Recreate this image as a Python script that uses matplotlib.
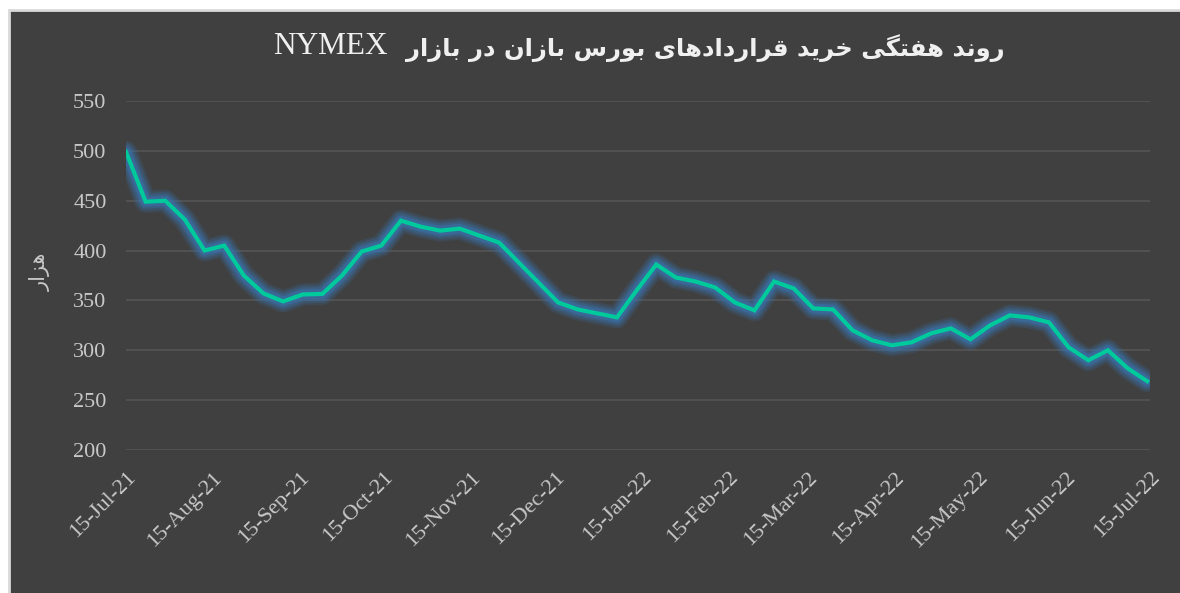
import numpy as np
import pandas as pd
import matplotlib
matplotlib.use("Agg")
import matplotlib.pyplot as plt
import matplotlib.dates as mdates
from matplotlib.patches import Rectangle

# Weekly long positions of swap dealers (thousand contracts)
dates = pd.date_range("2021-07-15", periods=53, freq="7D")
values = [499, 449, 450, 431, 400, 405, 375, 357, 349, 356,
          356.5, 375, 399, 405, 430, 424, 420, 422, 415, 408,
          388, 368, 348, 341, 337, 333, 360, 386, 373, 369,
          363, 348, 340, 369, 362, 342, 341, 320, 310, 305,
          308, 317, 322, 311, 325, 335, 333, 328, 303, 290,
          300, 282, 269]
tick_dates = pd.date_range("2021-07-15", periods=13, freq=pd.DateOffset(months=1))
y_ticks = [200, 250, 300, 350, 400, 450, 500, 550]

title_fa = "روند هفتگی خرید قراردادهای بورس بازان در بازار"
title_en = "NYMEX"
ylabel_fa = "هزار"

# minimal Persian shaping (matplotlib has no arabic shaping / RTL)
forms = {
    'ا': ('\uFE8D', '\uFE8E', None, None),
    'ب': ('\uFE8F', '\uFE90', '\uFE91', '\uFE92'),
    'ت': ('\uFE95', '\uFE96', '\uFE97', '\uFE98'),
    'خ': ('\uFEA5', '\uFEA6', '\uFEA7', '\uFEA8'),
    'د': ('\uFEA9', '\uFEAA', None, None),
    'ر': ('\uFEAD', '\uFEAE', None, None),
    'ز': ('\uFEAF', '\uFEB0', None, None),
    'س': ('\uFEB1', '\uFEB2', '\uFEB3', '\uFEB4'),
    'ف': ('\uFED1', '\uFED2', '\uFED3', '\uFED4'),
    'ق': ('\uFED5', '\uFED6', '\uFED7', '\uFED8'),
    'ن': ('\uFEE5', '\uFEE6', '\uFEE7', '\uFEE8'),
    'ه': ('\uFEE9', '\uFEEA', '\uFEEB', '\uFEEC'),
    'و': ('\uFEED', '\uFEEE', None, None),
    'ی': ('\uFBFC', '\uFBFD', '\uFBFE', '\uFBFF'),
    'گ': ('\uFB92', '\uFB93', '\uFB94', '\uFB95'),
}


def shape(text):
    out = []
    for i, c in enumerate(text):
        f = forms.get(c)
        if f is None:
            out.append(c)
            continue
        prev = text[i - 1] if i > 0 else None
        nxt = text[i + 1] if i + 1 < len(text) else None
        join_prev = prev in forms and forms[prev][2] is not None
        join_next = nxt in forms and f[2] is not None
        if join_prev and join_next:
            out.append(f[3])
        elif join_prev:
            out.append(f[1])
        elif join_next:
            out.append(f[2])
        else:
            out.append(f[0])
    return "".join(out)[::-1]


bg = "#404040"
txt = "#c8c8c8"
fonts = ["Liberation Serif", "DejaVu Sans"]

fig = plt.figure(figsize=(11.8, 5.93), dpi=100, facecolor="white")
fig.patches.append(Rectangle((8.5 / 1180, -0.01), 1.02, (593 - 9.5) / 593 + 0.01,
                             transform=fig.transFigure, facecolor=bg,
                             edgecolor="#d9d9d9", linewidth=2, zorder=-1))

ax = fig.add_axes([126 / 1180, 1 - 450 / 593, (1150 - 126) / 1180, 349 / 593])
ax.set_facecolor(bg)

# glow under the line
for lw, a in [(16, 0.18), (13, 0.25), (10, 0.35), (7, 0.55)]:
    ax.plot(dates, values, color="#3a72ad", linewidth=lw, alpha=a,
            solid_joinstyle="round", solid_capstyle="round")
ax.plot(dates, values, color="#00c99b", linewidth=3, solid_joinstyle="miter")

ax.set_ylim(200, 550)
ax.set_yticks(y_ticks)
ax.set_xlim(dates[0], pd.Timestamp("2022-07-15"))
ax.set_xticks(tick_dates)
ax.xaxis.set_major_formatter(mdates.DateFormatter("%d-%b-%y"))
ax.grid(axis="y", color="#575757", linewidth=1.1)
ax.set_axisbelow(True)
for s in ax.spines.values():
    s.set_visible(False)
ax.tick_params(length=0, colors=txt, labelsize=16)
ax.tick_params(axis="y", pad=14)
ax.tick_params(axis="x", pad=13)
for lab in ax.get_xticklabels():
    lab.set_rotation(45)
    lab.set_ha("right")
    lab.set_va("top")
    lab.set_rotation_mode("anchor")
    lab.set_family(fonts)
for lab in ax.get_yticklabels():
    lab.set_family(fonts)

# title: Persian part and the latin word set separately to match widths
fig.text(1005 / 1180, 1 - 48 / 593, shape(title_fa), ha="right", va="center",
         fontsize=17.5, color="#f0f0f0", family=["DejaVu Sans"], fontweight="bold")
fig.text(388 / 1180, 1 - 46 / 593, title_en, ha="right", va="center",
         fontsize=22.5, color="#f0f0f0", family=fonts)
fig.text(40 / 1180, 1 - 272 / 593, shape(ylabel_fa), rotation=90, ha="center", va="center",
         fontsize=15, color=txt, family=["DejaVu Sans"])

fig.savefig("out.png", dpi=100, facecolor="white")
